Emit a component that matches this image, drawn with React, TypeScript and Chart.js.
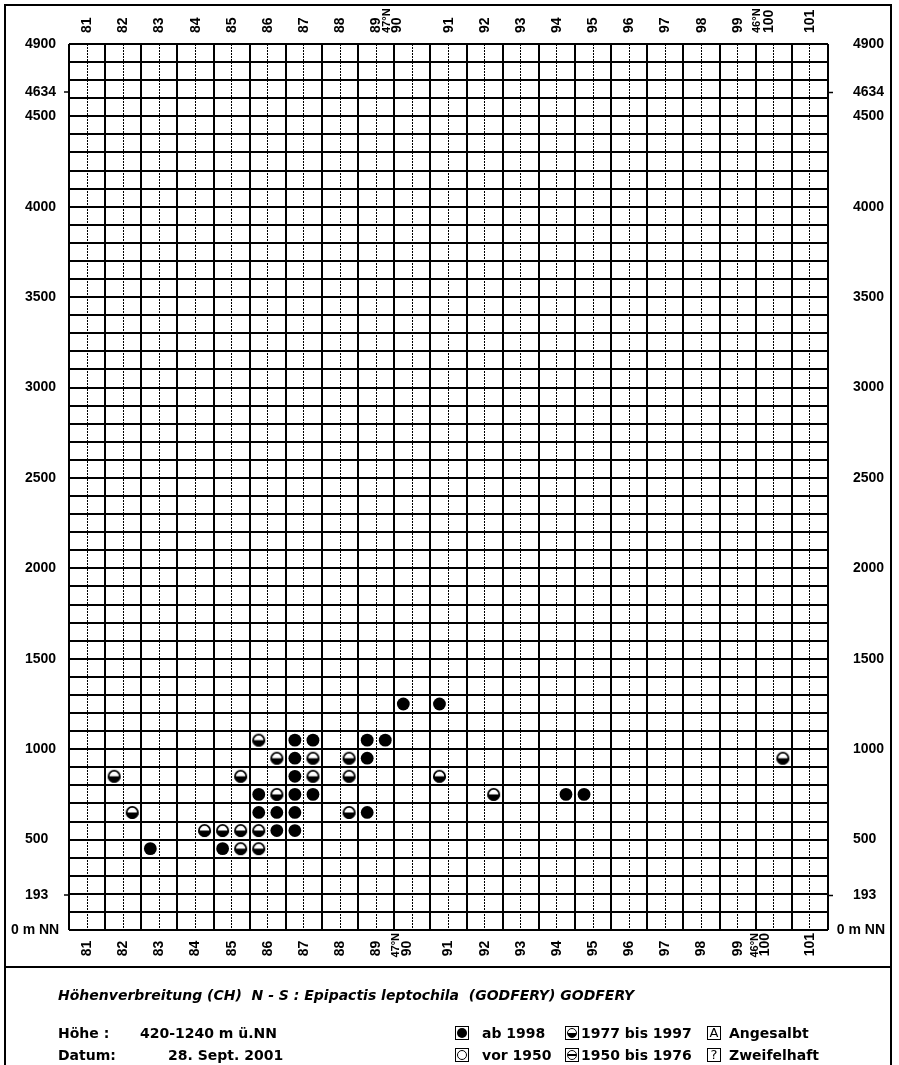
import React, { useEffect, useRef } from 'react';
import { Chart, registerables } from 'chart.js';

Chart.register(...registerables);

// ---------------- data ----------------
const X_MIN = 80.5;
const X_MAX = 101.5;
const Y_MIN = 0;
const Y_MAX = 4900;

const X_TICK_LABELS = ['81', '82', '83', '84', '85', '86', '87', '88', '89', '47°N', '90', '91', '92', '93', '94', '95', '96', '97', '98', '99', '46°N', '100', '101'];
const X_TOP_TICK_VALUES = [81, 82, 83, 84, 85, 86, 87, 88, 89, 89.2, 89.58, 91, 92, 93, 94, 95, 96, 97, 98, 99, 99.43, 99.87, 101];
const X_BOTTOM_TICK_VALUES = [81, 82, 83, 84, 85, 86, 87, 88, 89, 89.55, 89.85, 91, 92, 93, 94, 95, 96, 97, 98, 99, 99.47, 99.77, 101];

const Y_TICK_VALUES = [193, 500, 1000, 1500, 2000, 2500, 3000, 3500, 4000, 4500, 4634, 4900];
const Y_MARK_VALUES = [193, 4634];
const Y_ZERO_VALUE = [0];
const Y_ZERO_LABEL = '0 m NN';

// ab 1998 (filled)
const FILLED_KM = [89.75, 90.75, 86.75, 87.25, 88.75, 89.25, 86.75, 88.75, 86.75, 85.75, 86.75, 87.25, 94.25, 94.75, 85.75, 86.25, 86.75, 88.75, 86.25, 86.75, 82.75, 84.75];
const FILLED_M = [1250, 1250, 1050, 1050, 1050, 1050, 950, 950, 850, 750, 750, 750, 750, 750, 650, 650, 650, 650, 550, 550, 450, 450];

// 1977 bis 1997 (lower half filled)
const HALF_KM = [85.75, 86.25, 87.25, 88.25, 100.25, 81.75, 85.25, 87.25, 88.25, 90.75, 86.25, 92.25, 82.25, 88.25, 84.25, 84.75, 85.25, 85.75, 85.25, 85.75];
const HALF_M = [1050, 950, 950, 950, 950, 850, 850, 850, 850, 850, 750, 750, 650, 650, 550, 550, 550, 550, 450, 450];

const TITLE = 'Höhenverbreitung (CH)  N - S : Epipactis leptochila  (GODFERY) GODFERY';
const INFO_KEYS = ['Höhe :', 'Datum:'];
const INFO_VALUES = ['420-1240 m ü.NN', '28. Sept. 2001'];
const LEGEND_KINDS = [['full', 'half', 'A'], ['empty', 'bar', '?']];
const LEGEND_TEXTS = [['ab 1998', '1977 bis 1997', 'Angesalbt'], ['vor 1950', '1950 bis 1976', 'Zweifelhaft']];

// ---------------- helpers ----------------
const range = (a: number, b: number, step: number) => {
  const out: number[] = [];
  for (let v = a; v <= b + 1e-9; v += step) out.push(Math.round(v * 100) / 100);
  return out;
};
const X_SOLID = range(X_MIN, X_MAX, 1);
const X_DASH = range(81, 101, 1);
const Y_ROWS = range(Y_MIN, Y_MAX, 100);
const Y_GRID = [...Y_ROWS, ...Y_MARK_VALUES].sort((a, b) => a - b);

const LAB = "'Liberation Sans', Arial, Helvetica, sans-serif";
const DJV = "'DejaVu Sans', Verdana, sans-serif";

const setTicks = (vals: number[]) => (s: any) => {
  s.ticks = vals.map((v) => ({ value: v }));
};
const fitWidth = (w: number) => (s: any) => {
  s.width = w;
  s.paddingTop = 0;
  s.paddingBottom = 0;
};
const fitHeight = (h: number) => (s: any) => {
  s.height = h;
  s.paddingLeft = 0;
  s.paddingRight = 0;
};
const isMark = (v: any) => Y_MARK_VALUES.includes(v);
const xFont = (c: any) => {
  const lbl = X_TICK_LABELS[c.index] || '';
  return lbl.includes('°') ? { family: LAB, size: 11, weight: 'bold' } : { family: LAB, size: 14, weight: 'bold' };
};
const padBottom = (s: string) => (s.length === 2 ? s + '  ' : s);
const T = 'rgba(0,0,0,0)';
const LABEL_FONT = { family: LAB, size: 14, weight: 'bold' };

function makeHalfSymbol(r: number) {
  const size = Math.ceil(r * 2 + 4);
  const c = document.createElement('canvas');
  c.width = size;
  c.height = size;
  const g = c.getContext('2d')!;
  const cx = size / 2;
  const cy = size / 2;
  g.beginPath();
  g.arc(cx, cy, r, 0, Math.PI * 2);
  g.fillStyle = '#fff';
  g.fill();
  g.beginPath();
  g.arc(cx, cy, r, 0, Math.PI);
  g.closePath();
  g.fillStyle = '#000';
  g.fill();
  g.beginPath();
  g.arc(cx, cy, r - 0.8, 0, Math.PI * 2);
  g.lineWidth = 1.8;
  g.strokeStyle = '#000';
  g.stroke();
  return c;
}

function LegendSymbol({ kind, left, top }: { kind: string; left: number; top: number }) {
  const box: React.CSSProperties = {
    position: 'absolute', left, top, width: 14, height: 14, boxSizing: 'border-box',
    border: '1.5px solid #000', display: 'flex', alignItems: 'center', justifyContent: 'center', background: '#fff',
  };
  const circ: React.CSSProperties = { width: 10, height: 10, borderRadius: '50%', boxSizing: 'border-box' };
  let inner: React.ReactNode;
  if (kind === 'full') inner = <div style={{ ...circ, background: '#000' }} />;
  else if (kind === 'empty') inner = <div style={{ ...circ, border: '1.5px solid #000' }} />;
  else if (kind === 'half') inner = <div style={{ ...circ, border: '1.5px solid #000', background: 'linear-gradient(to bottom, #fff 50%, #000 50%)' }} />;
  else if (kind === 'bar') inner = <div style={{ ...circ, border: '1.5px solid #000', background: 'linear-gradient(to bottom, #fff 40%, #000 40%, #000 60%, #fff 60%)' }} />;
  else inner = <span style={{ font: `13px ${DJV}`, lineHeight: '12px', color: '#000' }}>{kind}</span>;
  return <div style={box}>{inner}</div>;
}

export default function App() {
  const ref = useRef<HTMLCanvasElement>(null);

  useEffect(() => {
    if (!ref.current) return;
    const half = makeHalfSymbol(6.4);
    const hidden = { display: false };
    const chart = new Chart(ref.current, {
      type: 'scatter',
      data: {
        datasets: [
          {
            label: 'ab 1998',
            data: FILLED_KM.map((x, i) => ({ x, y: FILLED_M[i] })),
            pointStyle: 'circle',
            pointRadius: 6.4,
            backgroundColor: '#000',
            borderColor: '#000',
            borderWidth: 0,
          },
          {
            label: '1977 bis 1997',
            data: HALF_KM.map((x, i) => ({ x, y: HALF_M[i] })),
            pointStyle: half as any,
            pointRadius: 6.4,
            backgroundColor: '#000',
            borderColor: '#000',
            borderWidth: 0,
          },
        ],
      },
      options: {
        responsive: false,
        animation: false,
        devicePixelRatio: 1,
        layout: { padding: { left: 25, right: 0, top: 0, bottom: 0 } },
        plugins: { legend: { display: false }, tooltip: { enabled: false }, title: { display: false } },
        scales: {
          x: {
            type: 'linear', position: 'bottom', min: X_MIN, max: X_MAX, weight: 0,
            afterBuildTicks: setTicks(X_BOTTOM_TICK_VALUES),
            afterFit: fitHeight(38),
            grid: { display: false, drawTicks: false },
            border: { display: false },
            ticks: {
              autoSkip: false, minRotation: 90, maxRotation: 90, padding: 3, color: '#000',
              font: xFont as any,
              callback: (_v: any, i: number) => padBottom(X_TICK_LABELS[i]),
            },
          },
          xTop: {
            type: 'linear', position: 'top', min: X_MIN, max: X_MAX, weight: 0,
            afterBuildTicks: setTicks(X_TOP_TICK_VALUES),
            afterFit: fitHeight(44),
            grid: { display: false, drawTicks: false },
            border: { display: false },
            ticks: {
              autoSkip: false, minRotation: 90, maxRotation: 90, padding: 11, color: '#000',
              labelOffset: 17,
              font: xFont as any,
              callback: (_v: any, i: number) => X_TICK_LABELS[i],
            },
          },
          xSolid: {
            type: 'linear', position: 'bottom', min: X_MIN, max: X_MAX, weight: 1,
            afterBuildTicks: setTicks(X_SOLID),
            afterFit: fitHeight(0),
            ticks: { display: false },
            grid: { color: '#000', lineWidth: 2, drawTicks: false },
            border: { display: false },
          },
          xDash: {
            type: 'linear', position: 'bottom', min: X_MIN, max: X_MAX, weight: 2,
            afterBuildTicks: setTicks(X_DASH),
            afterFit: fitHeight(0),
            ticks: { display: false },
            grid: { color: '#000', lineWidth: 1, drawTicks: false },
            border: { display: false, dash: [2, 1] },
          },
          y: {
            type: 'linear', position: 'left', min: Y_MIN, max: Y_MAX, weight: 0,
            afterBuildTicks: setTicks(Y_GRID),
            afterFit: fitWidth(5),
            ticks: { display: false },
            grid: {
              color: (c: any) => (isMark(c.tick && c.tick.value) ? T : '#000'),
              lineWidth: 2,
              drawTicks: true,
              tickLength: 5,
              tickWidth: 1.5,
              tickColor: (c: any) => (isMark(c.tick && c.tick.value) ? '#000' : T),
            },
            border: { display: false },
          },
          yZeroL: {
            type: 'linear', position: 'left', min: Y_MIN, max: Y_MAX, weight: 1,
            afterBuildTicks: setTicks(Y_ZERO_VALUE),
            afterFit: fitWidth(0),
            grid: hidden,
            border: { display: false },
            ticks: { autoSkip: false, mirror: true, crossAlign: 'near', padding: -53, color: '#000', font: LABEL_FONT, callback: () => Y_ZERO_LABEL },
          },
          yL: {
            type: 'linear', position: 'left', min: Y_MIN, max: Y_MAX, weight: 2,
            afterBuildTicks: setTicks(Y_TICK_VALUES),
            afterFit: fitWidth(39),
            grid: hidden,
            border: { display: false },
            ticks: { autoSkip: false, crossAlign: 'far', padding: 0, color: '#000', font: LABEL_FONT, callback: (_v: any, i: number) => String(Y_TICK_VALUES[i]) },
          },
          yR: {
            type: 'linear', position: 'right', min: Y_MIN, max: Y_MAX, weight: 0,
            afterBuildTicks: setTicks(Y_MARK_VALUES),
            afterFit: fitWidth(5),
            ticks: { display: false },
            grid: { drawOnChartArea: false, drawTicks: true, tickLength: 5, tickWidth: 1.5, tickColor: '#000', color: T },
            border: { display: false },
          },
          yZeroR: {
            type: 'linear', position: 'right', min: Y_MIN, max: Y_MAX, weight: 1,
            afterBuildTicks: setTicks(Y_ZERO_VALUE),
            afterFit: fitWidth(0),
            grid: hidden,
            border: { display: false },
            ticks: { autoSkip: false, mirror: true, crossAlign: 'near', padding: 52, color: '#000', font: LABEL_FONT, callback: () => Y_ZERO_LABEL },
          },
          yLR: {
            type: 'linear', position: 'right', min: Y_MIN, max: Y_MAX, weight: 2,
            afterBuildTicks: setTicks(Y_TICK_VALUES),
            afterFit: fitWidth(66),
            grid: hidden,
            border: { display: false },
            ticks: { autoSkip: false, crossAlign: 'near', padding: 12, color: '#000', font: LABEL_FONT, callback: (_v: any, i: number) => String(Y_TICK_VALUES[i]) },
          },
        } as any,
      },
    });
    return () => chart.destroy();
  }, []);

  const txt = (bold: boolean, italic = false): React.CSSProperties => ({
    position: 'absolute', font: `${italic ? 'italic ' : ''}${bold ? 'bold ' : ''}14px ${DJV}`,
    lineHeight: '16px', whiteSpace: 'pre', color: '#000',
  });
  const legendX = [455, 565, 707];
  const legendTextX = [482, 581, 729];
  const rowY = [1033, 1055];

  return (
    <div style={{ position: 'absolute', left: 0, top: 0, width: 899, height: 1065, background: '#fff', overflow: 'hidden' }}>
      <canvas ref={ref} width={899} height={968} style={{ position: 'absolute', left: 0, top: 0, display: 'block' }} />
      <div style={{ position: 'absolute', left: 4, top: 4, width: 888, height: 1080, boxSizing: 'border-box', border: '2px solid #000', pointerEvents: 'none' }} />
      <div style={{ position: 'absolute', left: 4, top: 966, width: 888, height: 2, background: '#000' }} />
      <div style={{ ...txt(true, true), left: 58, top: 987 }}>{TITLE}</div>
      {INFO_KEYS.map((k, i) => (
        <div key={k} style={{ ...txt(true), left: 58, top: rowY[i] - 8 }}>{k}</div>
      ))}
      <div style={{ ...txt(true), left: 140, top: rowY[0] - 8 }}>{INFO_VALUES[0]}</div>
      <div style={{ ...txt(true), left: 168, top: rowY[1] - 8 }}>{INFO_VALUES[1]}</div>
      {LEGEND_KINDS.map((row, r) =>
        row.map((kind, c) => (
          <React.Fragment key={`${r}-${c}`}>
            <LegendSymbol kind={kind} left={legendX[c]} top={rowY[r] - 7} />
            <div style={{ ...txt(true), left: legendTextX[c], top: rowY[r] - 8 }}>{LEGEND_TEXTS[r][c]}</div>
          </React.Fragment>
        ))
      )}
    </div>
  );
}
